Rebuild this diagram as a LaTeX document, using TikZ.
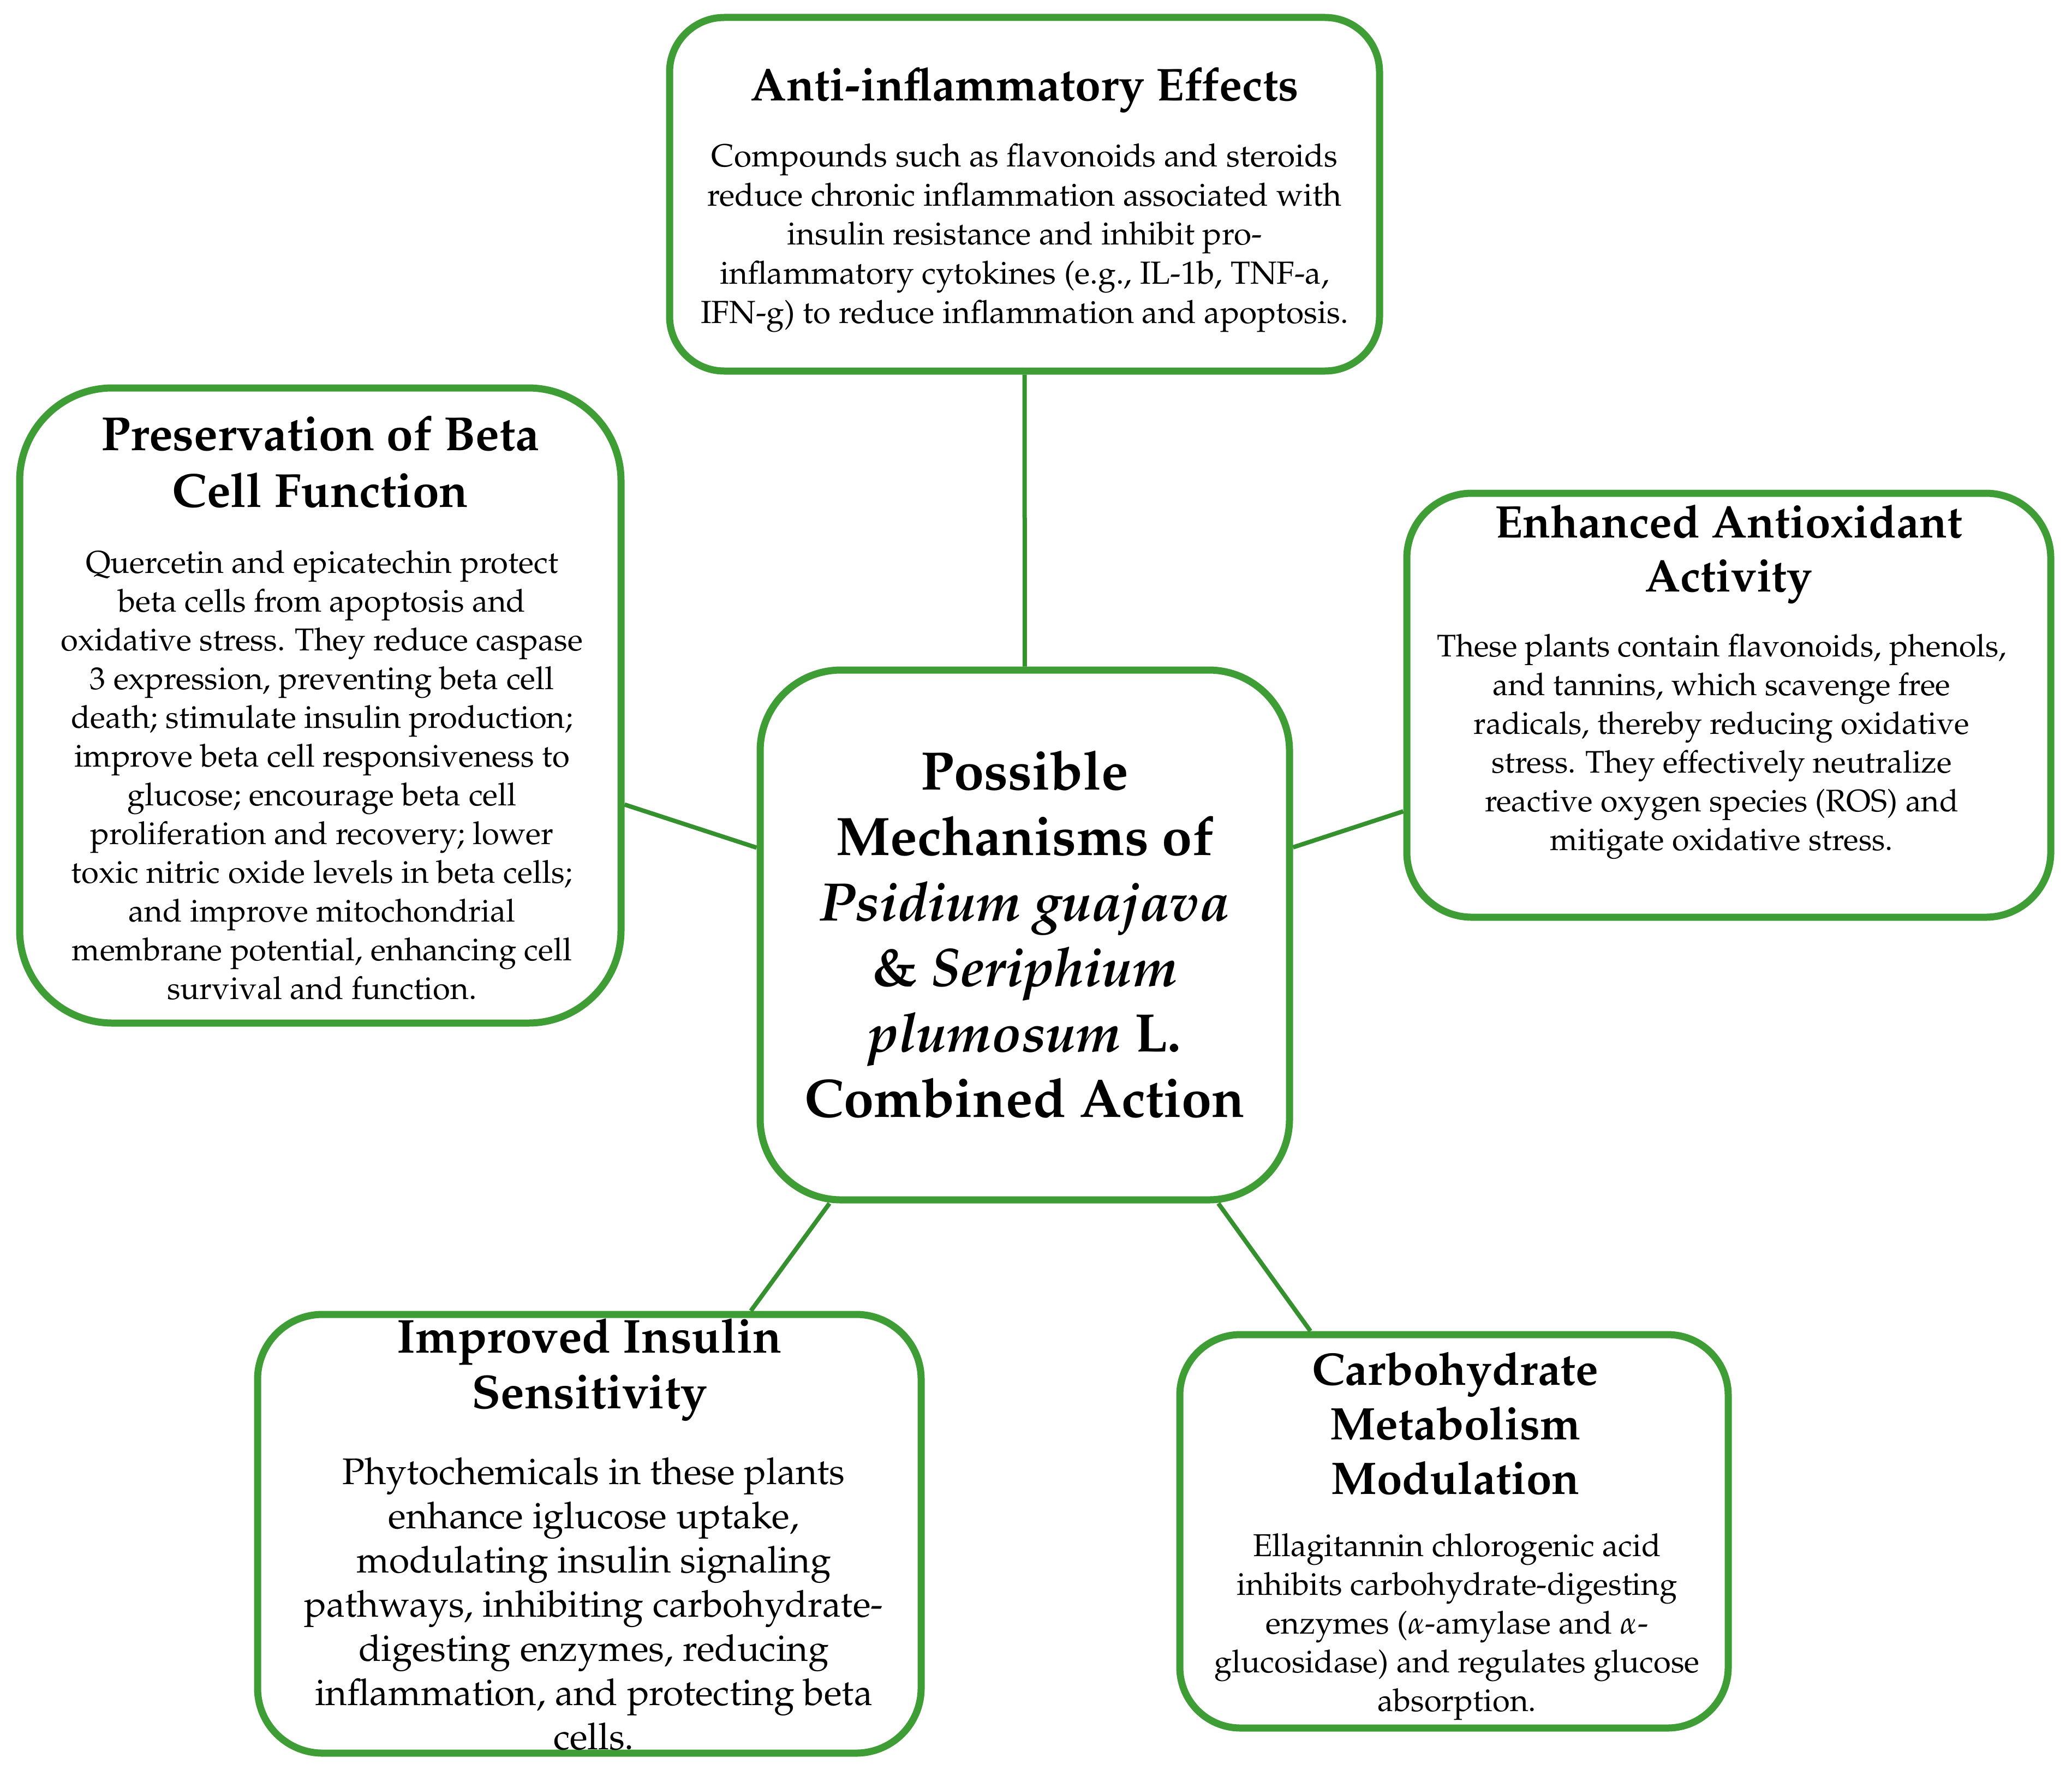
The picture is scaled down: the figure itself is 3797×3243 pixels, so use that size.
\documentclass[tikz,border=0pt]{standalone}
\usepackage[T1]{fontenc}
\usepackage{mathpazo}
\definecolor{boxgreen}{RGB}{63,157,53}
\definecolor{linkgreen}{RGB}{52,145,46}
\tikzset{
  gbox/.style={rectangle, draw=boxgreen, line width=3.25pt, fill=white, inner sep=0pt},
  ttl/.style={align=center, inner sep=0pt, font=\bfseries\fontsize{21.3}{25}\selectfont},
  txt/.style={align=center, inner sep=0pt, font=\fontsize{14.5}{17.75}\selectfont},
  link/.style={draw=linkgreen, line width=2pt}
}
\begin{document}
\begin{tikzpicture}[x=0.25pt,y=-0.25pt]
\useasboundingbox (0,0) rectangle (3797,3243);
% boxes
\node[gbox, minimum width=325.25pt, minimum height=162pt, rounded corners=25pt] (top) at (1877.5,356) {};
\node[gbox, minimum width=275.5pt, minimum height=291pt, rounded corners=42.5pt] (left) at (587,1293) {};
\node[gbox, minimum width=295pt, minimum height=194.25pt, rounded corners=29.75pt] (right) at (3168,1292.5) {};
\node[gbox, minimum width=242.5pt, minimum height=242.75pt, rounded corners=37pt] (center) at (1878,1713.5) {};
\node[gbox, minimum width=304pt, minimum height=201pt, rounded corners=29.75pt] (bl) at (1080,2811) {};
\node[gbox, minimum width=251.25pt, minimum height=180.25pt, rounded corners=27.75pt] (br) at (2664.5,2806.5) {};
% connectors
\draw[link] (center) -- (top);
\draw[link] (center) -- (left);
\draw[link] (center) -- (right);
\draw[link] (center) -- (bl);
\draw[link] (center) -- (br);
% top
\node[ttl, anchor=base, font=\bfseries\fontsize{21.1}{25}\selectfont] (toptitle) at (1877.5,185) {Anti-inflammatory Effects};
\node[txt, font=\fontsize{14.65}{17.9}\selectfont] (toptext) at (1877.5,436) {Compounds such as flavonoids and steroids\\
reduce chronic inflammation associated with\\
insulin resistance and inhibit pro-\\
inflammatory cytokines (e.g., IL-1b, TNF-a,\\
IFN-g) to reduce inflammation and apoptosis.};
% left
\node[ttl, font=\bfseries\fontsize{21.9}{26}\selectfont] (lefttitle) at (587,846) {Preservation of Beta\\Cell Function};
\node[txt] (lefttext) at (590,1421) {Quercetin and epicatechin protect\\
beta cells from apoptosis and\\
oxidative stress. They reduce caspase\\
3 expression, preventing beta cell\\
death; stimulate insulin production;\\
improve beta cell responsiveness to\\
glucose; encourage beta cell\\
proliferation and recovery; lower\\
toxic nitric oxide levels in beta cells;\\
and improve mitochondrial\\
membrane potential, enhancing cell\\
survival and function.};
% center
\node[align=center, inner sep=0pt, font=\bfseries\fontsize{24.8}{30}\selectfont] (centertext) at (1878,1712) {Possible\\
Mechanisms of\\
\textit{Psidium guajava}\\
\& \textit{Seriphium}\\
\textit{plumosum} L.\\
Combined Action};
% right
\node[ttl, font=\bfseries\fontsize{20.9}{24.75}\selectfont] (righttitle) at (3168,1015) {Enhanced Antioxidant\\Activity};
\node[txt, font=\fontsize{14.3}{17.75}\selectfont] (righttext) at (3155,1368) {These plants contain flavonoids, phenols,\\
and tannins, which scavenge free\\
radicals, thereby reducing oxidative\\
stress. They effectively neutralize\\
reactive oxygen species (ROS) and\\
mitigate oxidative stress.};
% bottom left
\node[ttl, font=\bfseries\fontsize{21.8}{25.5}\selectfont] (bltitle) at (1080,2510) {Improved Insulin\\Sensitivity};
\node[txt, font=\fontsize{16.95}{20.25}\selectfont] (bltext) at (1088,2940) {Phytochemicals in these plants\\
enhance iglucose uptake,\\
modulating insulin signaling\\
pathways, inhibiting carbohydrate-\\
digesting enzymes, reducing\\
inflammation, and protecting beta\\
cells.};
% bottom right
\node[ttl, font=\bfseries\fontsize{20.9}{25}\selectfont] (brtitle) at (2667,2609) {Carbohydrate\\Metabolism\\Modulation};
\node[txt] (brtext) at (2670,2982) {Ellagitannin chlorogenic acid\\
inhibits carbohydrate-digesting\\
enzymes ($\alpha$-amylase and $\alpha$-\\
glucosidase) and regulates glucose\\
absorption.};
\end{tikzpicture}
\end{document}
